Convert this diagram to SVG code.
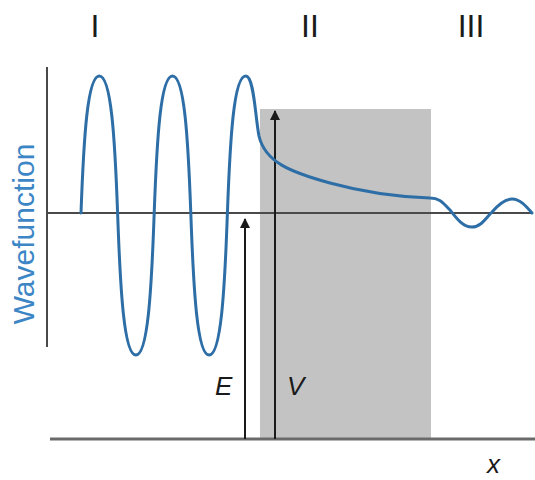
<svg xmlns="http://www.w3.org/2000/svg" width="535" height="480" viewBox="0 0 535 480">
<style>
.lbl{font-family:"Liberation Sans",Arial,sans-serif;fill:#1a1a1a}
.it{font-style:italic;font-size:26px}
.axis{stroke:#4a4a4a;stroke-width:2;fill:none}
.arr{stroke:#1a1a1a;stroke-width:2;fill:none;marker-end:url(#ah)}
</style>
<defs>
<marker id="ah" viewBox="0 0 10 14" refX="9" refY="7" markerWidth="10" markerHeight="14" markerUnits="userSpaceOnUse" orient="auto">
<path d="M0,2 L10,7 L0,12 Z" fill="#1a1a1a"/>
</marker>
</defs>
<rect width="535" height="480" fill="#ffffff"/>
<g id="barrier"><rect x="260" y="109" width="171" height="330" fill="#c3c3c3"/></g>
<g id="axes">
<line class="axis" x1="47" y1="67" x2="47" y2="347"/>
<line class="axis" x1="47" y1="213" x2="533" y2="213"/>
<line x1="50" y1="439" x2="535" y2="439" stroke="#6a6a6a" stroke-width="3"/>
</g>
<g id="connectors">
<line class="arr" x1="245" y1="439" x2="245" y2="219"/>
<line class="arr" x1="275" y1="439" x2="275" y2="111"/>
</g>
<g id="wave">
<path fill="none" stroke="#2e6ea6" stroke-width="3" stroke-linecap="round" d="M81,213 C83.75,137.6 87.4,76 99.3,76 C111.2,76 114.85,137.6 117.6,213 C120.35,291.1 124,355 135.9,355 C147.8,355 151.45,291.1 154.2,213 C156.95,137.6 160.6,76 172.5,76 C184.4,76 188.05,137.6 190.8,213 C193.55,291.1 197.2,355 209.1,355 C221,355 224.65,291.1 227.4,213 C230.15,137.6 233.8,76 245.7,76 C254,76 255,115 259,136 C265,162 290,172 330,183 C370,194 400,197 430,198 C440,198 443,203 450,210 C457,219 463,227 472,227 C481,227 486,218 492,212 C498,205 505,199 512,199 C520,199 526,206 532,213"/>
</g>
<g id="region-labels">
<text class="lbl" x="95" y="37" font-size="32" text-anchor="middle">I</text>
<text class="lbl" x="310" y="37" font-size="32" text-anchor="middle">II</text>
<text class="lbl" x="471" y="37" font-size="32" text-anchor="middle">III</text>
</g>
<g id="y-label"><text transform="translate(34,234) rotate(-90)" font-family="Liberation Sans,Arial,sans-serif" font-size="30" fill="#3d86c6" text-anchor="middle">Wavefunction</text></g>
<g id="E-label"><text class="lbl it" x="215" y="395">E</text></g>
<g id="V-label"><text class="lbl it" x="287" y="395">V</text></g>
<g id="x-label"><text class="lbl it" x="487" y="473">x</text></g>
</svg>
